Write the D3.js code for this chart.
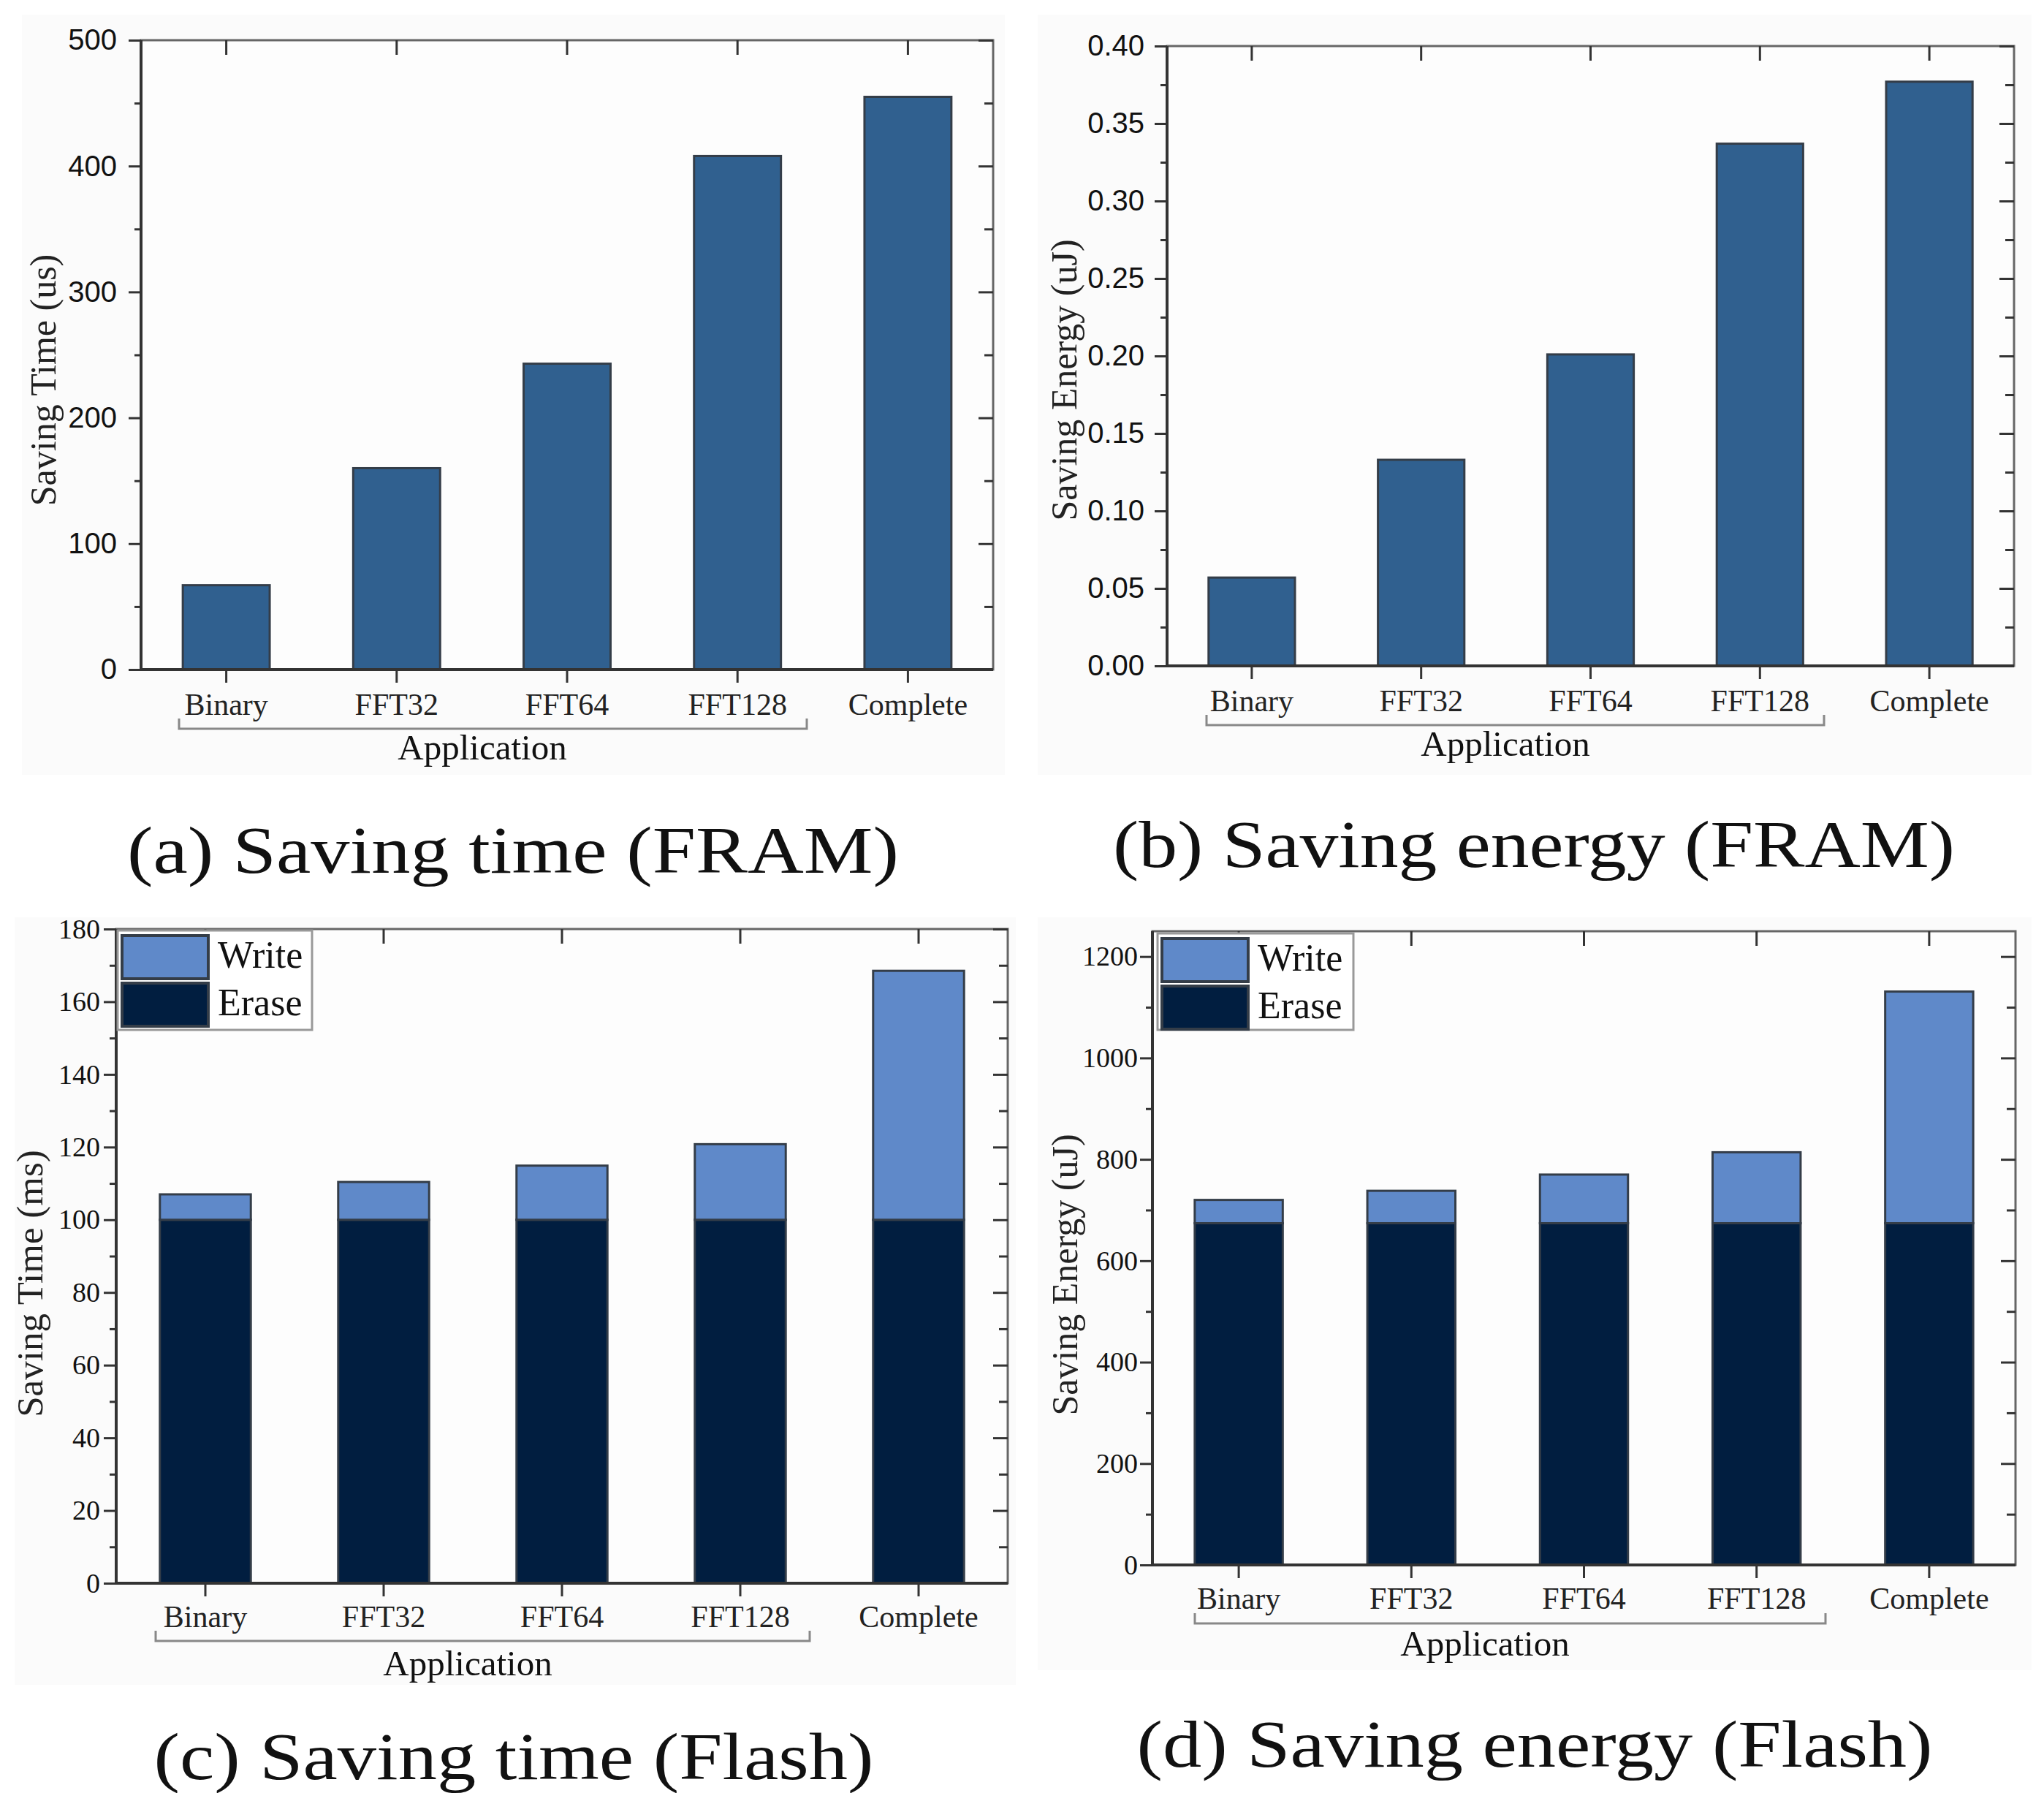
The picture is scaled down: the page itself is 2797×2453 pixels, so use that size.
<!DOCTYPE html>
<html>
<head>
<meta charset="utf-8">
<script src="https://cdn.jsdelivr.net/npm/d3@7"></script>
<style>
  body { margin: 0; background: #fff; }
  text { fill: #111; }
</style>
</head>
<body>
<svg id="fig" width="2797" height="2453"></svg>
<script>
"use strict";

// data
var categories = ["Binary", "FFT32", "FFT64", "FFT128", "Complete"];
var framTime = [67, 160, 243, 408, 455];            // us
var framEnergy = [0.057, 0.133, 0.201, 0.337, 0.377]; // uJ
var flashTimeErase = [100, 100, 100, 100, 100];      // ms
var flashTimeWrite = [7, 10.4, 14.9, 20.8, 68.5];
var flashEnergyErase = [674, 674, 674, 674, 674];    // uJ
var flashEnergyWrite = [46, 64, 96, 140, 457];
var timeTicks = [0, 100, 200, 300, 400, 500];
var energyTicks = [0, 0.05, 0.10, 0.15, 0.20, 0.25, 0.30, 0.35, 0.40];
var flashTimeTicks = [0, 20, 40, 60, 80, 100, 120, 140, 160, 180];
var flashEnergyTicks = [0, 200, 400, 600, 800, 1000, 1200];

var SERIF = "'Liberation Serif', 'Times New Roman', serif";
var SANS = "'Liberation Sans', Arial, sans-serif";
var colors = {single: "#30608f", Erase: "#011e40", Write: "#5f89c9"};

var svg = d3.select("#fig");

function panel(o) {
  var g = svg.append("g");

  g.append("rect").attr("x", o.bg[0]).attr("y", o.bg[1]).attr("width", o.bg[2]).attr("height", o.bg[3])
    .attr("fill", "#fbfbfb");
  g.append("rect").attr("x", o.left).attr("y", o.top).attr("width", o.right - o.left).attr("height", o.bottom - o.top)
    .attr("fill", "#fdfdfd");

  var x = d3.scaleBand().domain(categories).range([o.left, o.right]).paddingInner(0.49).paddingOuter(0.245),
    y = d3.scaleLinear().domain([0, o.yMax]).range([o.bottom, o.top]);

  // bars
  var rows = categories.map(function(c, i) {
    var r = {name: c};
    o.series.forEach(function(s) { r[s.key] = s.values[i]; });
    return r;
  });
  var stack = d3.stack().keys(o.series.map(function(s) { return s.key; }))(rows);
  stack.forEach(function(layer, li) {
    g.append("g").selectAll("rect")
      .data(layer)
      .enter().append("rect")
      .attr("x", function(d) { return x(d.data.name); })
      .attr("y", function(d) { return y(d[1]); })
      .attr("width", x.bandwidth())
      .attr("height", function(d) { return y(d[0]) - y(d[1]); })
      .attr("fill", o.series[li].color)
      .attr("stroke", "#343d48")
      .attr("stroke-width", 3);
  });

  // frame
  g.append("rect").attr("x", o.left).attr("y", o.top).attr("width", o.right - o.left).attr("height", o.bottom - o.top)
    .attr("fill", "none").attr("stroke", "#666").attr("stroke-width", 3);
  g.append("path").attr("d", "M" + o.left + "," + o.top + "V" + o.bottom + "H" + o.right)
    .attr("fill", "none").attr("stroke", "#333").attr("stroke-width", 4);

  var minor = [];
  for (var i = 0; i < o.ticks.length - 1; i++) minor.push((o.ticks[i] + o.ticks[i + 1]) / 2);

  function style(sel) {
    sel.select(".domain").remove();
    sel.selectAll("line").attr("stroke", "#333").attr("stroke-width", 3);
  }

  // left axis, outward
  g.append("g").attr("transform", "translate(" + o.left + ",0)")
    .call(d3.axisLeft(y).tickValues(minor).tickSize(9).tickFormat(""))
    .call(style);
  var ly = g.append("g").attr("transform", "translate(" + o.left + ",0)")
    .call(d3.axisLeft(y).tickValues(o.ticks).tickSize(17).tickPadding(o.yPad).tickFormat(o.fmt))
    .call(style);
  ly.selectAll("text").attr("font-family", o.yFont).attr("font-size", o.ySize).style("fill", "#111");

  // right axis, inward
  g.append("g").attr("transform", "translate(" + o.right + ",0)")
    .call(d3.axisRight(y).tickValues(minor).tickSize(-12).tickFormat(""))
    .call(style);
  g.append("g").attr("transform", "translate(" + o.right + ",0)")
    .call(d3.axisRight(y).tickValues(o.ticks).tickSize(-20).tickFormat(""))
    .call(style);

  // top axis, inward
  g.append("g").attr("transform", "translate(0," + o.top + ")")
    .call(d3.axisTop(x).tickSize(-20).tickFormat(""))
    .call(style);

  // bottom axis
  var bx = g.append("g").attr("transform", "translate(0," + o.bottom + ")")
    .call(d3.axisBottom(x).tickSize(18).tickPadding(o.xPad))
    .call(style);
  bx.selectAll("text").attr("font-family", SERIF).attr("font-size", 42).style("fill", "#222");

  // bracket + x title
  g.append("path")
    .attr("d", "M" + o.br[0] + "," + (o.br[2] - 14) + "V" + o.br[2] + "H" + o.br[1] + "V" + (o.br[2] - 14))
    .attr("fill", "none").attr("stroke", "#888").attr("stroke-width", 3);
  g.append("text").attr("x", o.xt[0]).attr("y", o.xt[1]).attr("text-anchor", "middle")
    .attr("font-family", SERIF).attr("font-size", 49).text("Application");

  // y title
  g.append("text").attr("transform", "translate(" + o.yt[0] + "," + o.yt[1] + ") rotate(-90)")
    .attr("text-anchor", "middle").attr("dy", "0.35em")
    .attr("font-family", SERIF).attr("font-size", o.ytSize).style("fill", "#222").text(o.yTitle);

  // legend
  if (o.legend) {
    var L = o.legend;
    g.append("rect").attr("x", L.x).attr("y", L.y).attr("width", L.w).attr("height", L.h)
      .attr("fill", "#fff").attr("stroke", "#999").attr("stroke-width", 3);
    ["Write", "Erase"].forEach(function(name, k) {
      g.append("rect").attr("x", L.x + 6).attr("y", L.y + 7 + k * 65).attr("width", 118).attr("height", 59)
        .attr("fill", colors[name]).attr("stroke", "#343d48").attr("stroke-width", 4);
      g.append("text").attr("x", L.x + 137).attr("y", L.y + 51 + k * 65)
        .attr("font-family", SERIF).attr("font-size", 52).text(name);
    });
  }

  // caption
  g.append("text").attr("x", o.cap[0]).attr("y", o.cap[1]).attr("text-anchor", "middle")
    .attr("font-family", SERIF).attr("font-size", 92)
    .attr("textLength", o.cap[2]).attr("lengthAdjust", "spacingAndGlyphs")
    .text(o.caption);
}

panel({
  bg: [30, 20, 1345, 1040],
  left: 193, right: 1359, top: 55, bottom: 916, yMax: 500, ticks: timeTicks,
  fmt: d3.format("d"), yFont: SANS, ySize: 40, yPad: 16, xPad: 14,
  series: [{key: "v", values: framTime, color: colors.single}],
  br: [245, 1104, 997], xt: [660, 1039],
  yTitle: "Saving Time (us)", yt: [58, 520], ytSize: 50,
  caption: "(a) Saving time (FRAM)", cap: [702, 1194, 1056]
});

panel({
  bg: [1420, 20, 1360, 1040],
  left: 1597, right: 2756, top: 63, bottom: 911, yMax: 0.40, ticks: energyTicks,
  fmt: d3.format(".2f"), yFont: SANS, ySize: 40, yPad: 14, xPad: 14,
  series: [{key: "v", values: framEnergy, color: colors.single}],
  br: [1651, 2496, 992], xt: [2060, 1034],
  yTitle: "Saving Energy (uJ)", yt: [1455, 520], ytSize: 50,
  caption: "(b) Saving energy (FRAM)", cap: [2099, 1186, 1152]
});

panel({
  bg: [20, 1255, 1370, 1050],
  left: 159, right: 1379, top: 1271, bottom: 2166, yMax: 180, ticks: flashTimeTicks,
  fmt: d3.format("d"), yFont: SERIF, ySize: 38, yPad: 5, xPad: 12,
  series: [{key: "Erase", values: flashTimeErase, color: colors.Erase},
           {key: "Write", values: flashTimeWrite, color: colors.Write}],
  br: [213, 1108, 2245], xt: [640, 2292],
  yTitle: "Saving Time (ms)", yt: [40, 1756], ytSize: 51,
  legend: {x: 161, y: 1273, w: 266, h: 136},
  caption: "(c) Saving time (Flash)", cap: [703, 2434, 985]
});

panel({
  bg: [1420, 1255, 1360, 1030],
  left: 1577, right: 2758, top: 1274, bottom: 2141, yMax: 1250, ticks: flashEnergyTicks,
  fmt: d3.format("d"), yFont: SERIF, ySize: 38, yPad: 3, xPad: 12,
  series: [{key: "Erase", values: flashEnergyErase, color: colors.Erase},
           {key: "Write", values: flashEnergyWrite, color: colors.Write}],
  br: [1635, 2498, 2221], xt: [2032, 2265],
  yTitle: "Saving Energy (uJ)", yt: [1456, 1744], ytSize: 50,
  legend: {x: 1584, y: 1277, w: 268, h: 132},
  caption: "(d) Saving energy (Flash)", cap: [2100, 2417, 1089]
});
</script>
</body>
</html>
